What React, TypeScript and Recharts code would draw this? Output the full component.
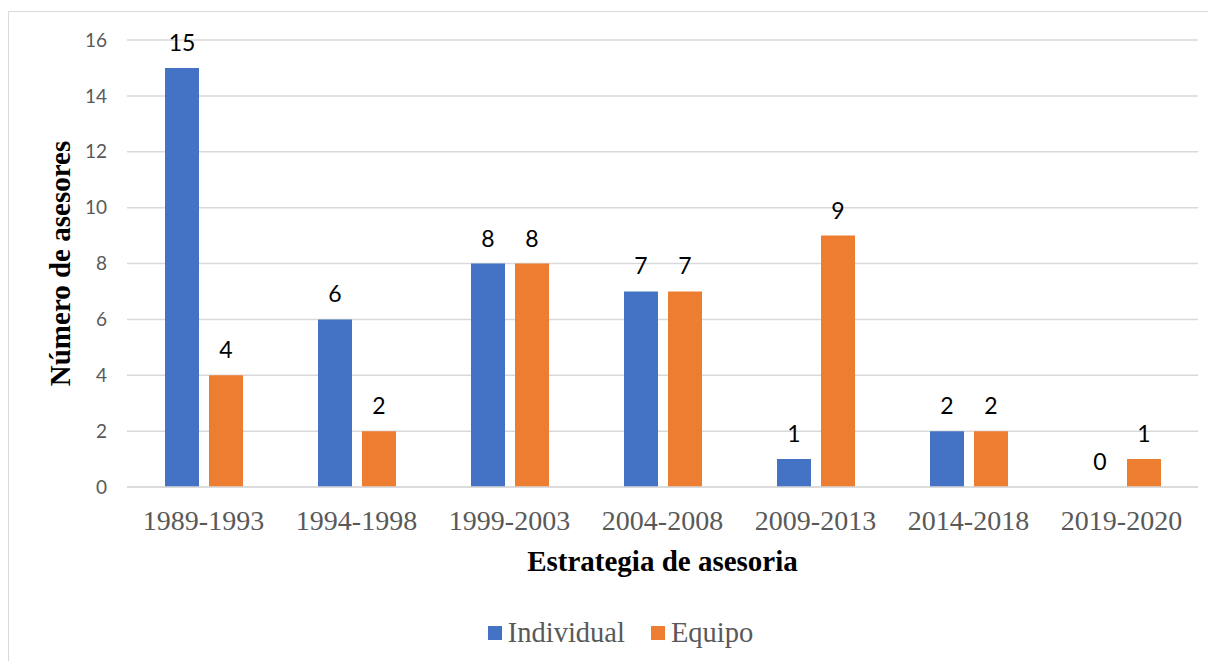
import React from "react";
import {
  Bar,
  BarChart,
  CartesianGrid,
  LabelList,
  Legend,
  XAxis,
  YAxis,
} from "recharts";

const periods = [
  "1989-1993",
  "1994-1998",
  "1999-2003",
  "2004-2008",
  "2009-2013",
  "2014-2018",
  "2019-2020",
];
const individual = [15, 6, 8, 7, 1, 2, 0];
const equipo = [4, 2, 8, 7, 9, 2, 1];
const yTicks = [0, 2, 4, 6, 8, 10, 12, 14, 16];
const seriesOrder = ["Individual", "Equipo"];

const data = periods.map((p, i) => ({
  period: p,
  Individual: individual[i],
  Equipo: equipo[i],
}));

const BLUE = "#4472C4";
const ORANGE = "#ED7D31";
const GRAY = "#595959";
const SERIF = "'Liberation Serif', 'Times New Roman', serif";
const SANS = "Lato, 'Noto Sans', sans-serif";

function YTitle({ viewBox }: any) {
  const cx = 51;
  const cy = viewBox.y + viewBox.height / 2;
  return (
    <text
      x={cx}
      y={cy}
      transform={`rotate(-90, ${cx}, ${cy})`}
      textAnchor="middle"
      dominantBaseline="central"
      fontFamily={SERIF}
      fontWeight="bold"
      fontSize={29}
      fill="#000"
    >
      Número de asesores
    </text>
  );
}

function LegendContent({ payload }: any) {
  const items = [...(payload || [])].sort(
    (a: any, b: any) => seriesOrder.indexOf(a.value) - seriesOrder.indexOf(b.value)
  );
  return (
    <div
      style={{ display: "flex", justifyContent: "center", gap: 26, paddingLeft: 34 }}
    >
      {items.map((item: any) => (
        <div key={item.value} style={{ display: "flex", alignItems: "center" }}>
          <span
            style={{
              display: "inline-block",
              width: 14,
              height: 14,
              background: item.color,
              marginRight: 6,
            }}
          />
          <span style={{ fontFamily: SERIF, fontSize: 28.5, color: GRAY }}>
            {item.value}
          </span>
        </div>
      ))}
    </div>
  );
}

// keep a zero-height bar so its "0" label is still drawn
const zeroSize = (v: number) => (v === 0 ? 0.01 : 0);

export default function App() {
  return (
    <div
      style={{
        marginTop: 3,
        width: 1208,
        height: 650,
        borderTop: "1px solid #d9d9d9",
        borderLeft: "1px solid #d9d9d9",
        background: "#fff",
      }}
    >
      <BarChart
        width={1207}
        height={649}
        data={data}
        margin={{ top: 28, right: 18, bottom: 60, left: 0 }}
        barSize={34}
        barGap={10}
      >
        <CartesianGrid vertical={false} stroke="#d9d9d9" strokeWidth={1.5} />
        <XAxis
          dataKey="period"
          height={84}
          axisLine={{ stroke: "#d9d9d9", strokeWidth: 1.5 }}
          tickLine={false}
          tickMargin={17}
          tick={{ fill: GRAY, fontSize: 28, fontFamily: SERIF }}
          label={{
            value: "Estrategia de asesoria",
            position: "insideBottom",
            offset: 0,
            fill: "#000",
            fontSize: 29,
            fontWeight: "bold",
            fontFamily: SERIF,
          }}
        />
        <YAxis
          width={118}
          domain={[0, 16]}
          ticks={yTicks}
          interval={0}
          axisLine={false}
          tickLine={false}
          tickMargin={14}
          tick={{ fill: GRAY, fontSize: 19, fontFamily: SANS }}
          label={<YTitle />}
        />
        <Legend
          content={<LegendContent />}
          verticalAlign="bottom"
          wrapperStyle={{ top: 605, height: 30 }}
        />
        <Bar
          dataKey="Individual"
          fill={BLUE}
          minPointSize={zeroSize}
          isAnimationActive={false}
        >
          <LabelList
            dataKey="Individual"
            position="top"
            offset={17}
            fill="#000"
            fontSize={23}
            fontFamily={SANS}
          />
        </Bar>
        <Bar dataKey="Equipo" fill={ORANGE} isAnimationActive={false}>
          <LabelList
            dataKey="Equipo"
            position="top"
            offset={17}
            fill="#000"
            fontSize={23}
            fontFamily={SANS}
          />
        </Bar>
      </BarChart>
    </div>
  );
}
